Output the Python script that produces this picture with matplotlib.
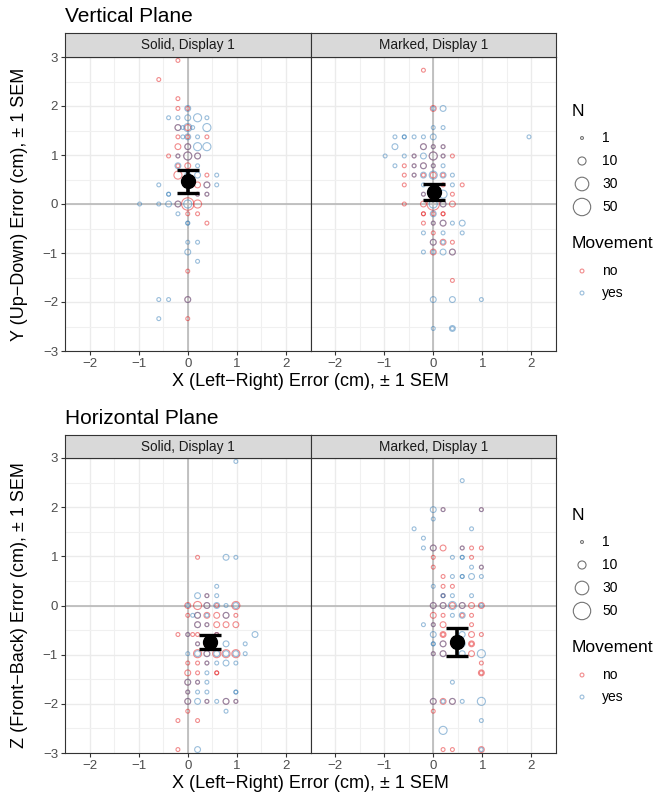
import numpy as np
import matplotlib.pyplot as plt
from matplotlib.ticker import MultipleLocator

plt.rcParams['font.family'] = ['Liberation Sans', 'DejaVu Sans']

W, H = 672, 798
RED = '#E41A1C'
BLUE = '#377EB8'

# (x, y, N) per facet and movement condition
vert_solid_no = [
    (-0.2, 2.93, 2), (-0.59, 2.54, 2), (-0.2, 2.15, 2), (-0.2, 1.95, 2), (0, 1.95, 2),
    (-0.2, 1.56, 5), (0, 1.56, 5), (-0.2, 1.37, 2), (0, 1.37, 2), (0.39, 1.37, 2),
    (-0.2, 1.17, 5), (0, 1.17, 5), (-0.39, 0.98, 2), (-0.2, 0.98, 2), (0, 0.98, 10),
    (0.2, 0.98, 5), (0, 0.78, 5), (-0.2, 0.78, 2), (-0.2, 0.59, 10), (0.39, 0.59, 2),
    (0.2, 0.39, 5), (0.39, 0.39, 5), (0.2, 0.2, 2), (0.39, 0.2, 2), (-0.2, 0, 5),
    (0, 0, 25), (0.2, 0, 10), (0, -0.2, 2), (0.2, -0.2, 2), (0.39, -0.39, 2),
    (0, -1.37, 2), (0, -1.95, 5), (0, -2.34, 2),
]
vert_solid_yes = [
    (0, 1.95, 5), (-0.39, 1.76, 2), (-0.2, 1.76, 2), (0, 1.76, 5), (0.2, 1.76, 10),
    (0.39, 1.76, 2), (-0.2, 1.56, 5), (-0.1, 1.56, 2), (0, 1.56, 10), (0.1, 1.56, 2),
    (0.39, 1.56, 10), (-0.1, 1.37, 2), (0, 1.37, 5), (0.2, 1.37, 2), (0, 1.17, 5),
    (0.2, 1.17, 10), (0.39, 1.17, 10), (-0.2, 0.98, 2), (0, 0.98, 10), (0.2, 0.98, 5),
    (-0.2, 0.78, 5), (0.2, 0.78, 2), (0, 0.59, 5), (0.2, 0.59, 5), (0.59, 0.59, 2),
    (-0.59, 0.39, 2), (0.39, 0.39, 5), (0.59, 0.39, 2), (-0.39, 0.2, 2), (-0.39, 0.2, 2),
    (0.2, 0.2, 2), (0.39, 0.2, 2), (-0.98, 0, 2), (-0.59, 0, 2), (-0.39, 0, 5),
    (-0.2, 0, 5), (0, 0, 10), (-0.2, -0.2, 2), (0, -0.39, 2), (0, -0.39, 2),
    (0, -0.78, 2), (0.2, -0.78, 2), (0, -0.98, 5), (0.2, -1.17, 2), (-0.59, -1.95, 2),
    (-0.39, -1.95, 2), (0, -1.95, 5), (-0.59, -2.34, 2),
]
vert_marked_no = [
    (-0.2, 2.73, 2), (0, 1.95, 5), (-0.2, 1.17, 5), (0, 1.17, 2), (0.2, 1.17, 2),
    (-0.39, 0.98, 2), (0, 0.98, 10), (0.2, 0.98, 2), (0.39, 0.98, 2), (-0.59, 0.78, 2),
    (-0.39, 0.78, 2), (-0.2, 0.78, 5), (0, 0.78, 2), (-0.59, 0.59, 2), (-0.39, 0.59, 2),
    (-0.2, 0.59, 2), (0, 0.59, 5), (0.2, 0.59, 2), (-0.59, 0.39, 2), (0.2, 0.39, 2),
    (0.59, 0.39, 2), (-0.2, 0.2, 2), (0.39, 0.2, 2), (-0.59, 0, 2), (-0.2, 0, 5),
    (0, 0, 25), (0.2, 0, 5), (0.39, 0, 5), (-0.2, -0.2, 2), (-0.2, -0.2, 2),
    (0, -0.2, 2), (0.2, -0.2, 2), (0.2, -0.2, 2), (-0.2, -0.39, 2), (0, -0.39, 2),
    (0.2, -0.39, 5), (0, -0.59, 2), (0, -0.78, 5), (0.2, -0.78, 5), (0.39, -0.78, 2),
    (0, -0.98, 5), (0.39, -0.98, 5), (0.39, -1.56, 2),
]
vert_marked_yes = [
    (0, 1.95, 2), (0.2, 1.95, 5), (0, 1.56, 2), (0.2, 1.56, 2), (-0.78, 1.37, 2),
    (-0.59, 1.37, 2), (-0.59, 1.37, 2), (-0.39, 1.37, 2), (-0.2, 1.37, 2), (0, 1.37, 5),
    (1.95, 1.37, 2), (-0.78, 1.17, 5), (-0.2, 1.17, 5), (0, 1.17, 2), (0.2, 1.17, 2),
    (-0.98, 0.98, 2), (-0.59, 0.98, 2), (-0.39, 0.98, 2), (-0.2, 0.98, 5), (0, 0.98, 10),
    (0.2, 0.98, 2), (-0.78, 0.78, 2), (-0.39, 0.78, 2), (-0.2, 0.78, 5), (0, 0.78, 2),
    (0.2, 0.78, 2), (-0.39, 0.59, 2), (-0.2, 0.59, 5), (0, 0.59, 10), (0.2, 0.59, 5),
    (0.39, 0.59, 2), (-0.2, 0.39, 2), (0.39, 0.39, 2), (-0.2, 0.2, 2), (0.2, 0.2, 10),
    (0, 0, 10), (0.2, 0, 5), (0, -0.2, 5), (0, -0.39, 2), (0.2, -0.39, 5),
    (0.39, -0.39, 2), (0.59, -0.39, 5), (-0.2, -0.59, 2), (0.2, -0.59, 2), (0.59, -0.59, 2),
    (0, -0.78, 5), (0.2, -0.78, 2), (-0.2, -0.98, 2), (0, -0.98, 2), (0.2, -0.98, 5),
    (0.39, -0.98, 5), (0, -1.95, 5), (0.39, -1.95, 5), (0.98, -1.95, 2), (0, -2.54, 2),
    (0.39, -2.54, 5), (0.39, -2.54, 2),
]
horiz_solid_no = [
    (0.2, 0.98, 2), (0.39, 0.2, 2), (0, 0, 5), (0.2, 0, 10), (0.39, 0, 5),
    (0.59, 0, 2), (0.98, 0, 10), (0, -0.2, 2), (0.2, -0.2, 5), (0.39, -0.2, 5),
    (0.59, -0.2, 5), (0.78, -0.2, 5), (0.98, -0.2, 2), (0.2, -0.39, 5), (0.39, -0.39, 2),
    (0.59, -0.39, 5), (0.78, -0.39, 5), (0.98, -0.39, 5), (-0.2, -0.59, 2), (0, -0.59, 2),
    (0.1, -0.59, 2), (0.2, -0.59, 2), (0.59, -0.59, 2), (0.59, -0.59, 2), (0.2, -0.78, 2),
    (0.39, -0.78, 5), (0.2, -0.98, 10), (0.39, -0.98, 5), (0.59, -0.98, 10), (0.78, -0.98, 10),
    (0.98, -0.98, 10), (0, -1.17, 2), (0.2, -1.17, 2), (0.39, -1.17, 2), (0, -1.37, 5),
    (0.2, -1.37, 2), (0.59, -1.37, 2), (0.59, -1.37, 2), (0, -1.56, 5), (0.2, -1.56, 2),
    (0, -1.76, 2), (0, -1.95, 5), (0.39, -1.95, 2), (0.78, -1.95, 5), (0.98, -1.95, 2),
    (0, -2.15, 2), (-0.2, -2.34, 2), (0.2, -2.34, 2), (-0.2, -2.93, 2),
]
horiz_solid_yes = [
    (0.98, 2.93, 2), (0.78, 0.98, 5), (0.98, 0.98, 2), (0.59, 0.39, 2), (0.2, 0.2, 5),
    (0.39, 0.2, 2), (0.59, 0.2, 2), (0, 0, 2), (0.39, 0, 5), (0.59, 0, 5),
    (0.78, 0, 2), (0.98, 0, 5), (0.1, -0.2, 2), (0.2, -0.2, 5), (0.39, -0.2, 2),
    (0.78, -0.2, 5), (0.2, -0.39, 5), (0.39, -0.39, 2), (0, -0.59, 2), (0.59, -0.59, 2),
    (1.37, -0.59, 5), (0.2, -0.78, 2), (0.78, -0.78, 5), (1.17, -0.78, 2), (0, -0.98, 2),
    (0.2, -0.98, 5), (0.39, -0.98, 5), (0.59, -0.98, 5), (0.78, -0.98, 5), (0.98, -0.98, 5),
    (1.17, -0.98, 2), (0.39, -1.17, 2), (0.59, -1.17, 2), (0.78, -1.17, 5), (0.98, -1.17, 2),
    (0.39, -1.37, 2), (0, -1.56, 5), (0.2, -1.56, 2), (0.39, -1.56, 2), (0, -1.76, 2),
    (0.2, -1.76, 2), (0.39, -1.76, 2), (0.98, -1.76, 2), (0.98, -1.76, 2), (0, -1.95, 5),
    (0.2, -1.95, 5), (0.39, -1.95, 2), (0.59, -1.95, 2), (0.78, -1.95, 5), (0.98, -1.95, 2),
    (0.78, -2.15, 2), (0.2, -2.93, 5),
]
horiz_marked_no = [
    (0.2, 1.95, 2), (0.98, 1.95, 2), (0, 1.17, 5), (0.2, 1.17, 5), (0.59, 1.17, 2),
    (0.78, 1.17, 2), (0.98, 1.17, 2), (0, 0.98, 2), (0.78, 0.98, 2), (0, 0.78, 2),
    (0.98, 0.78, 2), (0.2, 0.59, 2), (0.2, 0.39, 2), (0.39, 0.39, 2), (0.2, 0.2, 2),
    (0, 0, 5), (0.2, 0, 5), (0.39, 0, 5), (0.59, 0, 5), (0.78, 0, 5),
    (0.98, 0, 5), (0, -0.2, 5), (0.2, -0.2, 2), (0.59, -0.2, 2), (0.78, -0.2, 2),
    (0, -0.39, 2), (0.2, -0.39, 5), (0.78, -0.39, 2), (0.2, -0.59, 5), (0.2, -0.59, 2),
    (0.78, -0.59, 5), (0.98, -0.59, 2), (0.2, -0.78, 5), (0.39, -0.78, 2), (0.78, -0.78, 5),
    (0.78, -0.78, 2), (0, -0.98, 2), (0.2, -0.98, 5), (0.78, -0.98, 5), (0.98, -1.17, 2),
    (0.98, -1.37, 5), (0.98, -1.37, 2), (0, -1.95, 5), (0.2, -1.95, 5), (0.39, -1.95, 5),
    (0, -2.15, 2), (0.2, -2.93, 2), (0.39, -2.93, 2), (0.98, -2.93, 5),
]
horiz_marked_yes = [
    (0.59, 2.54, 2), (0, 1.95, 5), (0.2, 1.95, 2), (0.98, 1.95, 2), (0, 1.76, 2),
    (-0.39, 1.56, 2), (0.78, 1.56, 2), (-0.2, 1.37, 2), (-0.2, 1.17, 2), (0, 1.17, 5),
    (0.59, 1.17, 2), (0.39, 0.98, 2), (0.59, 0.98, 2), (0.59, 0.98, 2), (0.78, 0.78, 2),
    (0.98, 0.78, 2), (0.39, 0.59, 2), (0.59, 0.59, 2), (0.59, 0.59, 2), (0.78, 0.59, 5),
    (0.98, 0.59, 2), (0, 0.39, 2), (0.2, 0.2, 2), (0.2, 0.2, 2), (0.39, 0.2, 2),
    (0.78, 0.2, 2), (0, 0, 5), (0.2, 0, 5), (0.39, 0, 10), (0.59, 0, 5),
    (0.98, 0, 2), (0.39, -0.2, 2), (0.59, -0.2, 5), (-0.2, -0.39, 2), (0, -0.39, 2),
    (0, -0.59, 5), (0.59, -0.59, 5), (0, -0.78, 2), (0, -0.78, 2), (0.2, -0.78, 5),
    (0.59, -0.78, 5), (0, -0.98, 2), (0.2, -0.98, 5), (0.59, -0.98, 5), (0.98, -0.98, 10),
    (0.39, -1.56, 2), (0, -1.95, 5), (0.2, -1.95, 2), (0.39, -1.95, 5), (0.59, -1.95, 2),
    (0.98, -1.95, 10), (0.98, -2.34, 2), (0.2, -2.54, 10), (0.98, -2.93, 2),
]

# mean x, mean y, SEM x, SEM y
vert_solid_mean = (0.0, 0.46, 0.05, 0.24)
vert_marked_mean = (0.02, 0.25, 0.05, 0.16)
horiz_solid_mean = (0.46, -0.74, 0.06, 0.15)
horiz_marked_mean = (0.48, -0.74, 0.06, 0.28)

size_breaks = [1, 10, 30, 50]
move_levels = ['no', 'yes']
facet_labels = ['Solid, Display 1', 'Marked, Display 1']


def diam(n):
    # area scale like ggplot, range 1..6
    size = 1 + 5 * (np.sqrt(n) - 1) / (np.sqrt(50) - 1)
    return size * 2.9 * 0.72


def fbox(x0, y0, x1, y1):
    return [x0 / W, 1 - y1 / H, (x1 - x0) / W, (y1 - y0) / H]


def draw_panel(ax, pts_no, pts_yes, mean, first):
    ax.set_xlim(-2.5, 2.5)
    ax.set_ylim(-3, 3)
    ax.xaxis.set_major_locator(MultipleLocator(1))
    ax.xaxis.set_minor_locator(MultipleLocator(0.5))
    ax.yaxis.set_major_locator(MultipleLocator(1))
    ax.yaxis.set_minor_locator(MultipleLocator(0.5))
    ax.grid(which='major', color='#EBEBEB', lw=1.0)
    ax.grid(which='minor', color='#F0F0F0', lw=0.8)
    ax.set_axisbelow(True)
    ax.axhline(0, color='#B3B3B3', lw=1.1, zorder=1)
    ax.axvline(0, color='#B3B3B3', lw=1.1, zorder=1)
    for pts, col in ((pts_no, RED), (pts_yes, BLUE)):
        x, y, n = np.array(pts).T
        ax.scatter(x, y, s=diam(n) ** 2, facecolors='none', edgecolors=col,
                   alpha=0.5, linewidths=0.8, zorder=2)
    mx, my, sx, sy = mean
    ax.errorbar(mx, my, yerr=sy, fmt='none', ecolor='k', elinewidth=2.6,
                capsize=7.8, capthick=2.4, zorder=4)
    ax.errorbar(mx, my, xerr=sx, fmt='none', ecolor='k', elinewidth=2.4,
                capsize=4, capthick=2.2, zorder=4)
    ax.plot(mx, my, 'o', color='k', ms=10, zorder=5)
    for sp in ax.spines.values():
        sp.set_color('#333333')
        sp.set_linewidth(0.8)
    ax.tick_params(which='major', length=3, color='#333333', width=0.8,
                   labelsize=9.5, labelcolor='#4D4D4D', pad=2)
    ax.tick_params(which='minor', length=0)
    if not first:
        ax.tick_params(axis='y', left=False, labelleft=False)


def draw_strip(fig, box, label):
    s = fig.add_axes(box)
    s.set_facecolor('#D9D9D9')
    s.set_xticks([])
    s.set_yticks([])
    for sp in s.spines.values():
        sp.set_color('#333333')
        sp.set_linewidth(0.8)
    s.text(0.5, 0.5, label, ha='center', va='center', fontsize=9.8,
           color='#1A1A1A', transform=s.transAxes)


def draw_legend(lax, top):
    lax.text(572, top, 'N', fontsize=12.6, va='center', ha='left')
    ys = [top + 27, top + 50, top + 73, top + 96]
    for n, y in zip(size_breaks, ys):
        lax.scatter([582], [y], s=diam(n) ** 2, facecolors='none',
                    edgecolors='k', alpha=0.55, linewidths=0.8)
        lax.text(602, y, str(n), fontsize=10, va='center', ha='left')
    lax.text(572, top + 132, 'Movement', fontsize=12.6, va='center', ha='left')
    for lev, col, y in zip(move_levels, (RED, BLUE), (top + 160, top + 182)):
        lax.scatter([582], [y], s=diam(2) ** 2, facecolors='none',
                    edgecolors=col, alpha=0.5, linewidths=0.8)
        lax.text(602, y, lev, fontsize=10, va='center', ha='left')


fig = plt.figure(figsize=(W / 100, H / 100), dpi=100)

rows = [
    ('Vertical Plane', 'Y (Up\u2212Down) Error (cm), \u00b1 1 SEM', 33, 57, 351,
     [(vert_solid_no, vert_solid_yes, vert_solid_mean),
      (vert_marked_no, vert_marked_yes, vert_marked_mean)], 111),
    ('Horizontal Plane', 'Z (Front\u2212Back) Error (cm), \u00b1 1 SEM', 435, 458, 753,
     [(horiz_solid_no, horiz_solid_yes, horiz_solid_mean),
      (horiz_marked_no, horiz_marked_yes, horiz_marked_mean)], 515),
]

lax = fig.add_axes([556 / W, 0, 116 / W, 1])
lax.set_xlim(556, 672)
lax.set_ylim(H, 0)
lax.axis('off')

for title, ylab, strip_top, p_top, p_bot, panels, leg_top in rows:
    fig.text(65 / W, 1 - (strip_top - 17) / H, title, fontsize=15,
             ha='left', va='center')
    xs = [(65, 310.5), (310.5, 556)]
    for i, ((x0, x1), (pn, py, pm)) in enumerate(zip(xs, panels)):
        ax = fig.add_axes(fbox(x0, p_top, x1, p_bot))
        draw_panel(ax, pn, py, pm, i == 0)
        draw_strip(fig, fbox(x0, strip_top, x1, p_top), facet_labels[i])
    fig.text(20 / W, 1 - (p_top + p_bot) / 2 / H, ylab, rotation=90,
             fontsize=13, ha='center', va='center')
    fig.text(310.5 / W, 1 - (p_bot + 31) / H, 'X (Left\u2212Right) Error (cm), \u00b1 1 SEM',
             fontsize=13, ha='center', va='center')
    draw_legend(lax, leg_top)

fig.savefig('out.png', dpi=100)
